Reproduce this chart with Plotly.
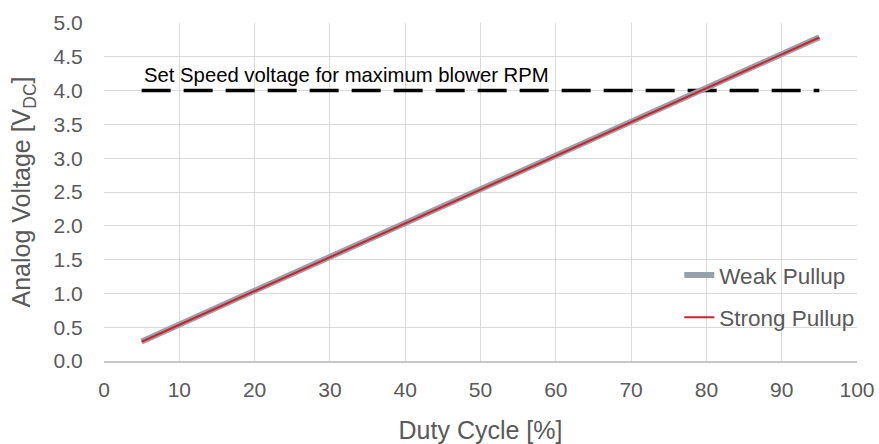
import plotly.graph_objects as go

duty = [5, 10, 15, 20, 25, 30, 35, 40, 45, 50, 55, 60, 65, 70, 75, 80, 85, 90, 95]
weak = [0.29, 0.54, 0.79, 1.04, 1.29, 1.54, 1.79, 2.04, 2.29, 2.54, 2.79, 3.04, 3.29, 3.54, 3.79, 4.04, 4.29, 4.54, 4.79]
strong = [0.285, 0.535, 0.785, 1.035, 1.285, 1.535, 1.785, 2.035, 2.285, 2.535, 2.785, 3.035, 3.285, 3.535, 3.785, 4.035, 4.285, 4.535, 4.785]
set_x = [5, 95]
set_y = [4.0, 4.0]
set_label = "Set Speed voltage for maximum blower RPM"

FONT = "Liberation Sans, Arial, sans-serif"
GRID = "#d9d9d9"
TXT = "#595959"

fig = go.Figure()
fig.add_trace(go.Scatter(x=set_x, y=set_y, mode="lines", showlegend=False,
                         line=dict(color="black", width=3.5, dash="29px,13px"), hoverinfo="skip"))
fig.add_trace(go.Scatter(x=duty, y=weak, mode="lines", name="Weak Pullup", legendgroup="a",
                         line=dict(color="#97a1ab", width=6)))
fig.add_trace(go.Scatter(x=duty, y=strong, mode="lines", name="Strong Pullup", legendgroup="b",
                         line=dict(color="#d42027", width=2)))

fig.add_annotation(x=5.0, y=4.23, xref="x", yref="y", text=set_label, showarrow=False,
                   xanchor="left", yanchor="middle", font=dict(family=FONT, size=20.3, color="black"))

fig.update_layout(
    width=879, height=444,
    margin=dict(l=104, r=22, t=23, b=83),
    paper_bgcolor="white", plot_bgcolor="white",
    font=dict(family=FONT, color=TXT),
    legend=dict(x=0.764, y=0.317, xanchor="left", yanchor="top", bgcolor="rgba(0,0,0,0)",
                font=dict(size=22.5, color=TXT), tracegroupgap=10, traceorder="grouped"),
    xaxis=dict(range=[0, 100], dtick=10, showgrid=True, gridcolor=GRID, gridwidth=1.3,
               zeroline=False, showline=True, linecolor="#c8c8c8", linewidth=1.5, mirror=False,
               ticks="outside", ticklen=9, tickcolor="rgba(0,0,0,0)", automargin=False,
               tickfont=dict(size=21, color=TXT),
               title=dict(text="Duty Cycle [%]", font=dict(size=25, color=TXT), standoff=22)),
    yaxis=dict(range=[0, 5], dtick=0.5, tickformat=".1f", showgrid=True, gridcolor=GRID, gridwidth=1.3,
               zeroline=False, showline=False, automargin=False,
               ticks="outside", ticklen=16, tickcolor="rgba(0,0,0,0)",
               tickfont=dict(size=21, color=TXT),
               title=dict(text="Analog Voltage [V<sub>DC</sub>]", font=dict(size=25, color=TXT), standoff=15)),
)
fig.write_html("out.html", config={"displayModeBar": False},
               post_script="document.body.style.margin='0';document.body.style.overflow='hidden';")
